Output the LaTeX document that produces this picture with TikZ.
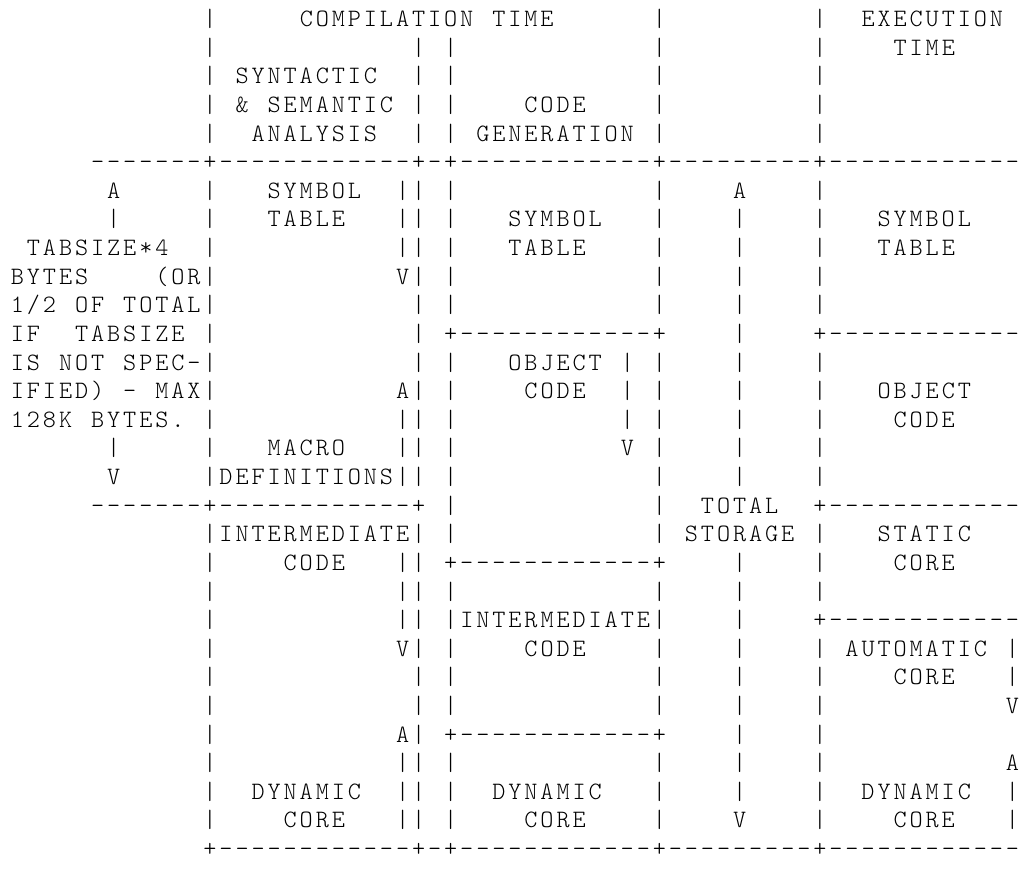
\documentclass[tikz,border=0pt]{standalone}
\usepackage{fontspec}
\newfontfamily\asciifont{lmmonolt10-regular.otf}
\ExplSyntaxOn
\dim_new:N \l_ascii_cw_dim
\dim_set:Nn \l_ascii_cw_dim {16.05pt}
\NewDocumentCommand \asciiline { m }
  {
    \str_map_inline:nn {#1}
      {
        \str_if_eq:nnTF {##1} {_}
          { \hbox_to_wd:nn { \l_ascii_cw_dim } { } }
          { \hbox_to_wd:nn { \l_ascii_cw_dim } { \hfil ##1 \hfil } }
      }
  }
\ExplSyntaxOff
\tikzset{
  asciirow/.style={anchor=base west, inner sep=0pt, outer sep=0pt,
    font=\asciifont\fontsize{25}{25}\selectfont, text=black}
}
\begin{document}
\begin{tikzpicture}[x=1pt,y=1pt]
\fill[white] (0,0) rectangle (1022,871);
\useasboundingbox (0,0) rectangle (1022,871);
\def\ox{9.4}
\def\ytop{844.4}
\def\pitch{28.62}
\node[asciirow] (l1)  at (\ox,{\ytop-0*\pitch})  {\asciiline{____________|_____COMPILATION_TIME______|_________|__EXECUTION}};
\node[asciirow] (l2)  at (\ox,{\ytop-1*\pitch})  {\asciiline{____________|____________|_|____________|_________|____TIME}};
\node[asciirow] (l3)  at (\ox,{\ytop-2*\pitch})  {\asciiline{____________|_SYNTACTIC__|_|____________|_________|}};
\node[asciirow] (l4)  at (\ox,{\ytop-3*\pitch})  {\asciiline{____________|_&_SEMANTIC_|_|____CODE____|_________|}};
\node[asciirow] (l5)  at (\ox,{\ytop-4*\pitch})  {\asciiline{____________|__ANALYSIS__|_|_GENERATION_|_________|}};
\node[asciirow] (l6)  at (\ox,{\ytop-5*\pitch})  {\asciiline{_____-------+------------+-+------------+---------+------------}};
\node[asciirow] (l7)  at (\ox,{\ytop-6*\pitch})  {\asciiline{______A_____|___SYMBOL__||_|____________|____A____|}};
\node[asciirow] (l8)  at (\ox,{\ytop-7*\pitch})  {\asciiline{______|_____|___TABLE___||_|___SYMBOL___|____|____|___SYMBOL}};
\node[asciirow] (l9)  at (\ox,{\ytop-8*\pitch})  {\asciiline{_TABSIZE*4__|___________||_|___TABLE____|____|____|___TABLE}};
\node[asciirow] (l10) at (\ox,{\ytop-9*\pitch})  {\asciiline{BYTES____(OR|___________V|_|____________|____|____|}};
\node[asciirow] (l11) at (\ox,{\ytop-10*\pitch}) {\asciiline{1/2_OF_TOTAL|____________|_|____________|____|____|}};
\node[asciirow] (l12) at (\ox,{\ytop-11*\pitch}) {\asciiline{IF__TABSIZE_|____________|_+------------+____|____+------------}};
\node[asciirow] (l13) at (\ox,{\ytop-12*\pitch}) {\asciiline{IS_NOT_SPEC-|____________|_|___OBJECT_|_|____|____|}};
\node[asciirow] (l14) at (\ox,{\ytop-13*\pitch}) {\asciiline{IFIED)_-_MAX|___________A|_|____CODE__|_|____|____|___OBJECT}};
\node[asciirow] (l15) at (\ox,{\ytop-14*\pitch}) {\asciiline{128K_BYTES._|___________||_|__________|_|____|____|____CODE}};
\node[asciirow] (l16) at (\ox,{\ytop-15*\pitch}) {\asciiline{______|_____|___MACRO___||_|__________V_|____|____|}};
\node[asciirow] (l17) at (\ox,{\ytop-16*\pitch}) {\asciiline{______V_____|DEFINITIONS||_|____________|____|____|}};
\node[asciirow] (l18) at (\ox,{\ytop-17*\pitch}) {\asciiline{_____-------+------------+_|____________|__TOTAL__+------------}};
\node[asciirow] (l19) at (\ox,{\ytop-18*\pitch}) {\asciiline{____________|INTERMEDIATE|_|____________|_STORAGE_|___STATIC}};
\node[asciirow] (l20) at (\ox,{\ytop-19*\pitch}) {\asciiline{____________|____CODE___||_+------------+____|____|____CORE}};
\node[asciirow] (l21) at (\ox,{\ytop-20*\pitch}) {\asciiline{____________|___________||_|____________|____|____|}};
\node[asciirow] (l22) at (\ox,{\ytop-21*\pitch}) {\asciiline{____________|___________||_|INTERMEDIATE|____|____+------------}};
\node[asciirow] (l23) at (\ox,{\ytop-22*\pitch}) {\asciiline{____________|___________V|_|____CODE____|____|____|_AUTOMATIC_|}};
\node[asciirow] (l24) at (\ox,{\ytop-23*\pitch}) {\asciiline{____________|____________|_|____________|____|____|____CORE___|}};
\node[asciirow] (l25) at (\ox,{\ytop-24*\pitch}) {\asciiline{____________|____________|_|____________|____|____|___________V}};
\node[asciirow] (l26) at (\ox,{\ytop-25*\pitch}) {\asciiline{____________|___________A|_+------------+____|____|}};
\node[asciirow] (l27) at (\ox,{\ytop-26*\pitch}) {\asciiline{____________|___________||_|____________|____|____|___________A}};
\node[asciirow] (l28) at (\ox,{\ytop-27*\pitch}) {\asciiline{____________|__DYNAMIC__||_|__DYNAMIC___|____|____|__DYNAMIC__|}};
\node[asciirow] (l29) at (\ox,{\ytop-28*\pitch}) {\asciiline{____________|____CORE___||_|____CORE____|____V____|____CORE___|}};
\node[asciirow] (l30) at (\ox,{\ytop-29*\pitch}) {\asciiline{____________+------------+-+------------+---------+------------}};
\end{tikzpicture}
\end{document}
